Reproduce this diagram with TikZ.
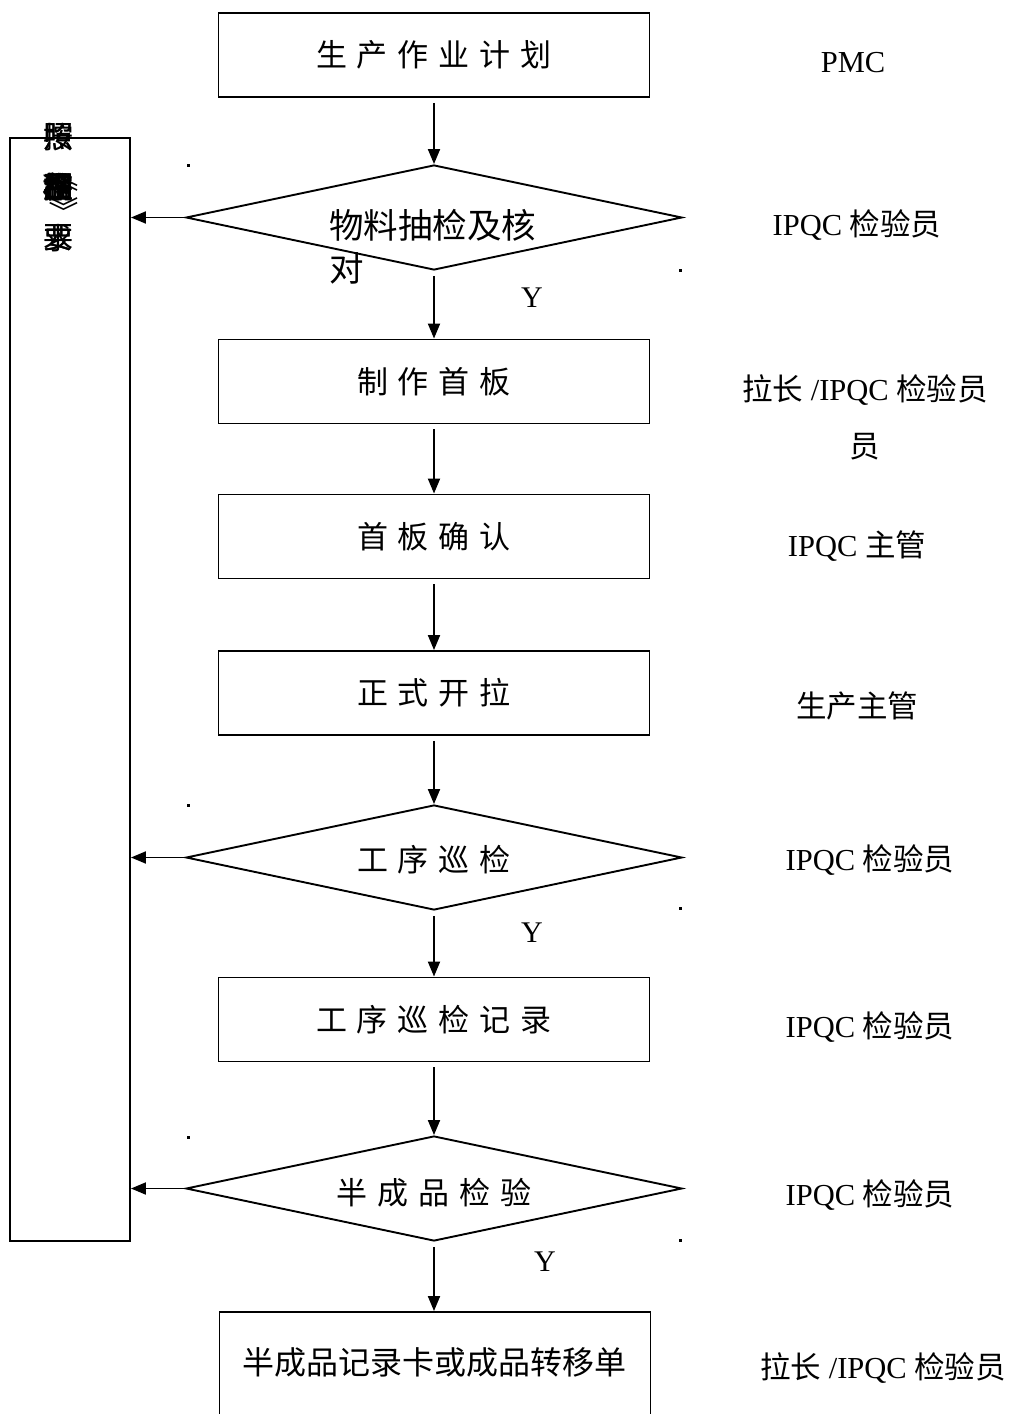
\documentclass[tikz,border=0pt]{standalone}
\usepackage{fontspec}
\setmainfont{Liberation Serif}
\newfontfamily\cjk{Noto Sans CJK SC}
\usetikzlibrary{shapes.geometric,arrows.meta}
\newcommand\gp{\hspace{10pt}}
\begin{document}
\begin{tikzpicture}[x=1pt,y=-1pt,
  box/.style={draw,line width=1.9pt,minimum width=431pt,minimum height=84pt,inner sep=0pt,
    font=\cjk\fontsize{31}{37}\selectfont},
  dia/.style={draw,diamond,line width=1.9pt,minimum width=496pt,minimum height=105pt,inner sep=0pt},
  dtext/.style={font=\cjk\fontsize{31}{37}\selectfont,inner sep=0pt},
  role/.style={font=\fontsize{30.5}{36}\selectfont,inner sep=0pt},
  yes/.style={font=\fontsize{30}{35}\selectfont,inner sep=0pt},
  vt/.style={font=\cjk\fontsize{30}{30}\selectfont,inner sep=0pt},
  arr/.style={line width=1.9pt,-{Triangle[length=15pt,width=12pt]},shorten <=5pt},
  dotm/.style={fill=black,minimum size=3pt,inner sep=0pt}
]
\useasboundingbox (0,0) rectangle (1015,1414);
\clip (0,0) rectangle (1015,1414);

% left box
\node[draw,line width=1.9pt,minimum width=120pt,minimum height=1103pt,inner sep=0pt] (lb) at (70,689.5) {};
% overprinted vertical text
\node[vt] (v1a) at (58,137) {按};
\node[vt] (v1b) at (58,137) {照};
\node[vt] (v1c) at (58.6,137) {照};
\node[vt,rotate=-90] (v2o) at (64,177) {《};
\node[vt] (v2a) at (58,187) {不};
\node[vt] (v2b) at (58,187) {合};
\node[vt] (v2c) at (58,187) {格};
\node[vt] (v2d) at (58,187) {品};
\node[vt] (v2e) at (58,187) {控};
\node[vt] (v2f) at (58,187) {制};
\node[vt] (v2g) at (58,187) {程};
\node[vt] (v2h) at (58,187) {序};
\node[vt] (v2i) at (58.8,187.5) {品};
\node[vt] (v2j) at (57.4,186.5) {程};
\node[vt,rotate=-90] (v2c2) at (64,211) {》};
\node[vt] (v3a) at (58,238) {要};
\node[vt] (v3b) at (58,238) {求};
\node[vt] (v3c) at (58.6,238) {要};

% main flow
\node[box] (b1) at (434,55) {生\gp 产\gp 作\gp 业\gp 计\gp 划};
\node[dia] (d1) at (434,217.5) {};
\node[dtext,anchor=west,font=\cjk\fontsize{34.5}{40}\selectfont] (d1t) at (329,225) {物料抽检及核};
\node[dtext,anchor=west,font=\cjk\fontsize{34.5}{40}\selectfont] (d1t2) at (329,268) {对};
\node[box] (b2) at (434,381.5) {制\gp 作\gp 首\gp 板};
\node[box] (b3) at (434,536.5) {首\gp 板\gp 确\gp 认};
\node[box] (b4) at (434,693) {正\gp 式\gp 开\gp 拉};
\node[dia] (d2) at (434,857.5) {};
\node[dtext] (d2t) at (434,860) {工\gp 序\gp 巡\gp 检};
\node[box] (b5) at (434,1019.5) {工\gp 序\gp 巡\gp 检\gp 记\gp 录};
\node[dia] (d3) at (434,1188.5) {};
\node[dtext] (d3t) at (434,1193) {半\gp 成\gp 品\gp 检\gp 验};
\node[draw,line width=1.9pt,minimum width=431pt,minimum height=200pt,inner sep=0pt] (b6) at (435,1412) {};
\node[dtext,font=\cjk\fontsize{32}{38}\selectfont] (b6t) at (434,1362) {半成品记录卡或成品转移单};

% arrows
\draw[arr] (b1) -- (d1);
\draw[arr] (d1) -- (b2);
\draw[arr] (b2) -- (b3);
\draw[arr] (b3) -- (b4);
\draw[arr] (b4) -- (d2);
\draw[arr] (d2) -- (b5);
\draw[arr] (b5) -- (d3);
\draw[arr] (d3.south) -- (d3.south |- b6.north);
\draw[arr,shorten <=0pt] (d1.west) -- (d1.west -| lb.east);
\draw[arr,shorten <=0pt] (d2.west) -- (d2.west -| lb.east);
\draw[arr,shorten <=0pt] (d3.west) -- (d3.west -| lb.east);

% Y labels
\node[yes] (y1) at (532,298) {Y};
\node[yes] (y2) at (532,933) {Y};
\node[yes] (y3) at (545,1262) {Y};

% stray dots
\node[dotm] (p1) at (188,165) {};
\node[dotm] (p2) at (680,270) {};
\node[dotm] (p3) at (188,805) {};
\node[dotm] (p4) at (680,908) {};
\node[dotm] (p5) at (188,1137) {};
\node[dotm] (p6) at (680,1240) {};

% roles
\node[role] (r1) at (853,63) {PMC};
\node[role] (r2) at (857,225) {IPQC {\cjk 检验员}};
\node[role] (r3) at (865,390) {{\cjk 拉长} /IPQC {\cjk 检验员}};
\node[role] (r3b) at (865,447) {{\cjk 员}};
\node[role] (r4) at (857,546) {IPQC {\cjk 主管}};
\node[role] (r5) at (857,706) {{\cjk 生产主管}};
\node[role] (r6) at (870,860) {IPQC {\cjk 检验员}};
\node[role] (r7) at (870,1027) {IPQC {\cjk 检验员}};
\node[role] (r8) at (870,1195) {IPQC {\cjk 检验员}};
\node[role] (r9) at (883,1368) {{\cjk 拉长} /IPQC {\cjk 检验员}};
\end{tikzpicture}
\end{document}
